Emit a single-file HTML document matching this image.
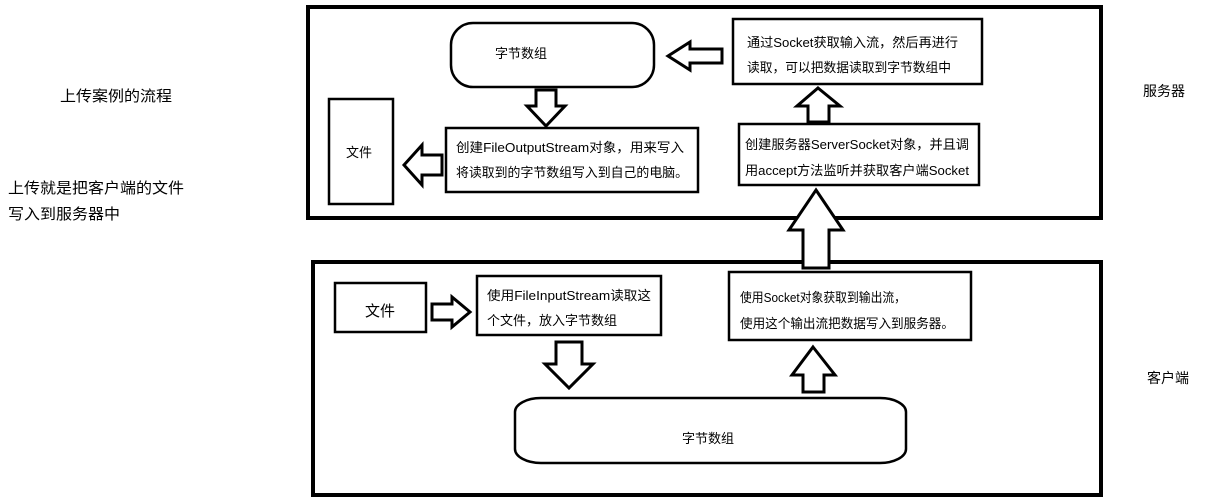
<!DOCTYPE html>
<html><head><meta charset="utf-8"><style>
html,body{margin:0;padding:0;background:#fff;}
svg{display:block;}
text{font-family:"Liberation Sans","Noto Sans CJK SC",sans-serif;fill:#000;}
</style></head><body>
<svg width="1205" height="504" viewBox="0 0 1205 504" xmlns="http://www.w3.org/2000/svg">
<g fill="none" stroke="#000">
<rect x="308" y="7" width="793" height="211" stroke-width="4"/>
<rect x="313" y="262" width="788" height="233" stroke-width="4"/>
<rect x="451" y="23" width="203" height="64" rx="22" ry="22" stroke-width="2.5" fill="#fff"/>
<rect x="733" y="19" width="249" height="65" stroke-width="2.5"/>
<rect x="329" y="99" width="64" height="105" stroke-width="2.5"/>
<rect x="446" y="128" width="252" height="64" stroke-width="2.5"/>
<rect x="739" y="124" width="240" height="61" stroke-width="2.5"/>
<rect x="335" y="283" width="91" height="49" stroke-width="2.5"/>
<rect x="477" y="276" width="184" height="59" stroke-width="2.5"/>
<rect x="729" y="272" width="242" height="68" stroke-width="2.5"/>
<rect x="515" y="398" width="391" height="65" rx="26" ry="14" stroke-width="2.5"/>
</g>
<g fill="#fff" stroke="#000" stroke-width="3" stroke-linejoin="miter">
<polygon points="536,90 556,90 556,106 565,106 546,126 527,106 536,106"/>
<polygon points="668,56 690,42 690,49 722,49 722,63 690,63 690,70"/>
<polygon points="404,165 422,145 422,155 442,155 442,175 422,175 422,185"/>
<polygon points="818,88 840,106 829,106 829,122 808,122 808,106 797,106"/>
<polygon points="816,190 843,230 829,230 829,268 803,268 803,230 789,230"/>
<polygon points="432,304 452,304 452,297 470,312 452,327 452,320 432,320"/>
<polygon points="556,342 582,342 582,364 593,364 569,388 545,364 556,364"/>
<polygon points="813,347 835,375 824,375 824,392 803,392 803,375 792,375"/>
</g>
<g font-size="13">
<text x="495" y="58">字节数组</text>
<text x="747" y="47" textLength="211" lengthAdjust="spacingAndGlyphs">通过Socket获取输入流，然后再进行</text>
<text x="747" y="72" textLength="204" lengthAdjust="spacingAndGlyphs">读取，可以把数据读取到字节数组中</text>
<text x="346" y="157">文件</text>
<text x="456" y="152" textLength="228" lengthAdjust="spacingAndGlyphs">创建FileOutputStream对象，用来写入</text>
<text x="456" y="177" textLength="232" lengthAdjust="spacingAndGlyphs">将读取到的字节数组写入到自己的电脑。</text>
<text x="745" y="149" textLength="224" lengthAdjust="spacingAndGlyphs">创建服务器ServerSocket对象，并且调</text>
<text x="745" y="175" textLength="224" lengthAdjust="spacingAndGlyphs">用accept方法监听并获取客户端Socket</text>
<text x="365" y="316" font-size="15">文件</text>
<text x="487" y="300" textLength="164" lengthAdjust="spacingAndGlyphs">使用FileInputStream读取这</text>
<text x="487" y="325">个文件，放入字节数组</text>
<text x="740" y="302" textLength="166" lengthAdjust="spacingAndGlyphs">使用Socket对象获取到输出流，</text>
<text x="740" y="328" textLength="214" lengthAdjust="spacingAndGlyphs">使用这个输出流把数据写入到服务器。</text>
<text x="682" y="443">字节数组</text>
</g>
<g font-size="15">
<text x="60" y="101" textLength="112" lengthAdjust="spacingAndGlyphs">上传案例的流程</text>
<text x="8" y="193" textLength="176" lengthAdjust="spacingAndGlyphs">上传就是把客户端的文件</text>
<text x="8" y="219" textLength="112" lengthAdjust="spacingAndGlyphs">写入到服务器中</text>
<text x="1143" y="96" font-size="14">服务器</text>
<text x="1147" y="383" font-size="14">客户端</text>
</g>
</svg>
</body></html>
